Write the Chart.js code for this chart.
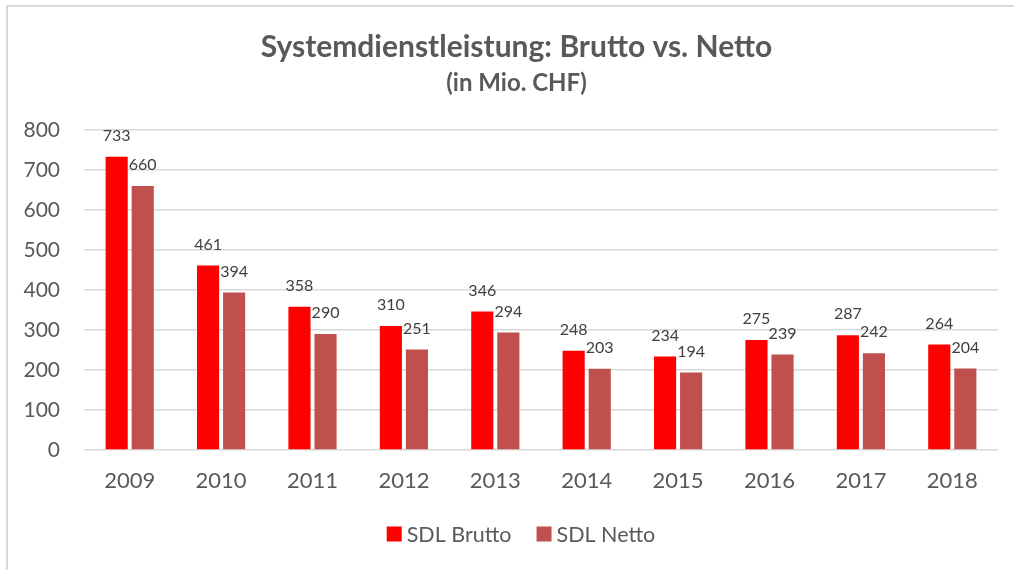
<!DOCTYPE html>
<html>
<head>
<meta charset="utf-8">
<script src="https://cdn.jsdelivr.net/npm/chart.js@4/dist/chart.umd.min.js"></script>
<style>
    body { margin: 0; background: #fff; }
    #wrap { width: 1014px; height: 570px; position: relative; }
</style>
</head>
<body>
<div id="wrap"><canvas id="sdlChart" width="1014" height="570"></canvas></div>
<script>
const years = ["2009", "2010", "2011", "2012", "2013", "2014", "2015", "2016", "2017", "2018"];
const brutto = [733, 461, 358, 310, 346, 248, 234, 275, 287, 264];
const netto = [660, 394, 290, 251, 294, 203, 194, 239, 242, 204];
const yTicks = [0, 100, 200, 300, 400, 500, 600, 700, 800];

const titleText = "Systemdienstleistung: Brutto vs. Netto";
const subtitleText = "(in Mio. CHF)";

const fontFamily = "Lato, 'Open Sans', sans-serif";
const textColor = "#595959";
const centerX = 516.5;

// frame around the chart, like the office export
const framePlugin = {
    id: "frame",
    beforeDraw(chart) {
        const ctx = chart.ctx;
        ctx.save();
        ctx.fillStyle = "#fff";
        ctx.fillRect(0, 0, chart.width, chart.height);
        ctx.strokeStyle = "#d9d9d9";
        ctx.lineWidth = 2;
        ctx.strokeRect(7, 6, 1100, 700);
        ctx.restore();
    }
};

// title + subtitle, centred on the whole frame
const headerPlugin = {
    id: "header",
    afterDraw(chart) {
        const ctx = chart.ctx;
        ctx.save();
        ctx.fillStyle = textColor;
        ctx.textAlign = "center";
        ctx.textBaseline = "middle";
        ctx.font = "bold 30px " + fontFamily;
        ctx.fillText(titleText, centerX, 47);
        ctx.font = "bold 24px " + fontFamily;
        ctx.fillText(subtitleText, centerX, 83);
        ctx.restore();
    }
};

// value labels above each bar
const valueLabels = {
    id: "valueLabels",
    afterDatasetsDraw(chart) {
        const ctx = chart.ctx;
        ctx.save();
        ctx.font = "16px " + fontFamily;
        ctx.fillStyle = "#404040";
        ctx.textAlign = "center";
        ctx.textBaseline = "middle";
        chart.data.datasets.forEach((ds, i) => {
            const meta = chart.getDatasetMeta(i);
            meta.data.forEach((bar, j) => {
                ctx.fillText(ds.data[j], bar.x, bar.y - 21);
            });
        });
        ctx.restore();
    }
};

// legend drawn by hand so the box/text spacing matches
const bottomLegend = {
    id: "bottomLegend",
    afterDraw(chart) {
        const ctx = chart.ctx;
        const box = 15, gap = 5, spacing = 25, y = 534;
        ctx.save();
        ctx.font = "21.5px " + fontFamily;
        ctx.textBaseline = "middle";
        const items = chart.data.datasets.map(ds => ({
            text: ds.label,
            color: ds.backgroundColor,
            w: box + gap + ctx.measureText(ds.label).width
        }));
        const total = items.reduce((s, it) => s + it.w, 0) + spacing * (items.length - 1);
        let x = 521 - total / 2;
        items.forEach(it => {
            ctx.fillStyle = it.color;
            ctx.fillRect(x, y - box / 2, box, box);
            ctx.fillStyle = textColor;
            ctx.fillText(it.text, x + box + gap, y + 1);
            x += it.w + spacing;
        });
        ctx.restore();
    }
};

new Chart(document.getElementById("sdlChart").getContext("2d"), {
    type: "bar",
    data: {
        labels: years,
        datasets: [{
            label: "SDL Brutto",
            data: brutto,
            backgroundColor: "#ff0000"
        }, {
            label: "SDL Netto",
            data: netto,
            backgroundColor: "#c0504d"
        }]
    },
    options: {
        responsive: false,
        animation: false,
        categoryPercentage: 0.57,
        barPercentage: 0.85,
        layout: { padding: { left: 0, right: 16, top: 130, bottom: 80 } },
        plugins: {
            title: { display: false },
            legend: { display: false },
            tooltip: { enabled: false }
        },
        scales: {
            x: {
                grid: { display: false, drawTicks: false },
                border: { display: false },
                afterFit(scale) {
                    scale.height = 40;
                },
                ticks: {
                    color: textColor,
                    font: { family: fontFamily, size: 22 },
                    padding: 18
                }
            },
            y: {
                min: 0,
                max: 800,
                afterBuildTicks(scale) {
                    scale.ticks = yTicks.map(v => ({ value: v }));
                },
                afterFit(scale) {
                    scale.width = 84;
                },
                grid: { color: "#d9d9d9", lineWidth: 1.5, drawTicks: false },
                border: { display: false },
                ticks: {
                    color: textColor,
                    font: { family: fontFamily, size: 21 },
                    padding: 24
                }
            }
        }
    },
    plugins: [framePlugin, headerPlugin, valueLabels, bottomLegend]
});
</script>
</body>
</html>
